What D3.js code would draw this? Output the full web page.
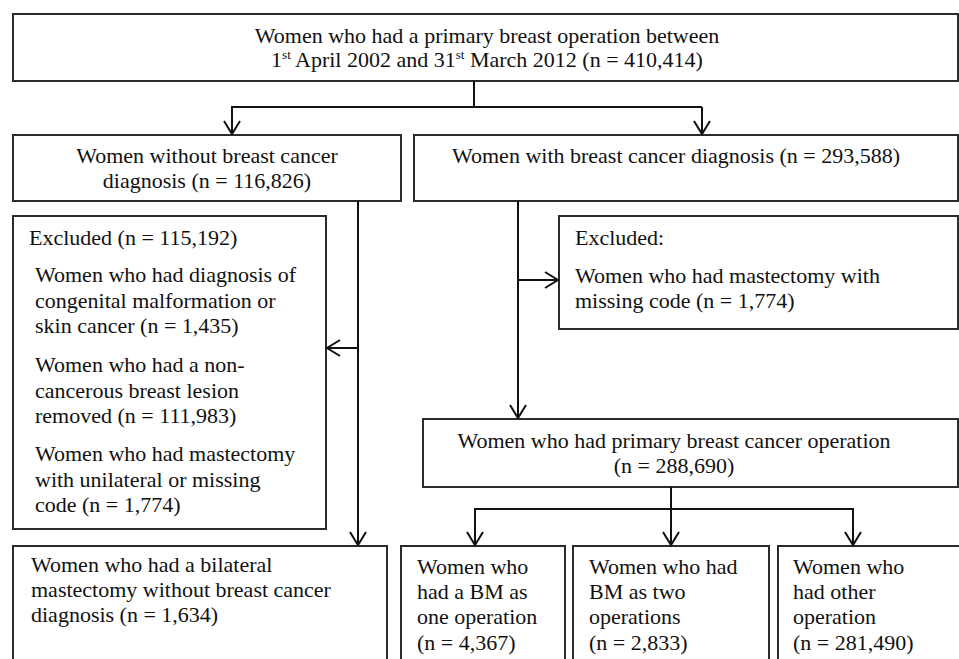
<!DOCTYPE html>
<html>
<head>
<meta charset="utf-8">
<script src="https://cdn.jsdelivr.net/npm/d3@7"></script>
<style>
  body { margin: 0; background: #fff; }
  text { font-family: "Liberation Serif", "Times New Roman", serif; font-size: 22px; fill: #111; }
</style>
</head>
<body>
<div class="flow-chart"></div>
<script>
// node texts ("^" marks a superscript)
var topLines = ["Women who had a primary breast operation between", "1^st April 2002 and 31^st March 2012 (n = 410,414)"];
var noCancerLines = ["Women without breast cancer", "diagnosis (n = 116,826)"];
var cancerLines = ["Women with breast cancer diagnosis (n = 293,588)"];
var excl1Header = ["Excluded (n = 115,192)"];
var excl1Items = [
  ["Women who had diagnosis of", "congenital malformation or", "skin cancer (n = 1,435)"],
  ["Women who had a non-", "cancerous breast lesion", "removed (n = 111,983)"],
  ["Women who had mastectomy", "with unilateral or missing", "code (n = 1,774)"]
];
var excl2Lines = ["Excluded:", "Women who had mastectomy with", "missing code (n = 1,774)"];
var primaryLines = ["Women who had primary breast cancer operation", "(n = 288,690)"];
var bilateralLines = ["Women who had a bilateral", "mastectomy without breast cancer", "diagnosis (n = 1,634)"];
var bm1Lines = ["Women who", "had a BM as", "one operation", "(n = 4,367)"];
var bm2Lines = ["Women who had", "BM as two", "operations", "(n = 2,833)"];
var otherLines = ["Women who", "had other", "operation", "(n = 281,490)"];

var width = 959, height = 659;

var svg = d3.select(".flow-chart").append("svg")
  .attr("width", width)
  .attr("height", height);

// boxes
var boxes = [
  {x0: 13, y0: 14, x1: 958, y1: 81},
  {x0: 13, y0: 135, x1: 401, y1: 201},
  {x0: 414, y0: 135, x1: 958, y1: 201},
  {x0: 13, y0: 216, x1: 326, y1: 529},
  {x0: 559, y0: 216, x1: 958, y1: 329},
  {x0: 423, y0: 419, x1: 958, y1: 487},
  {x0: 13, y0: 546, x1: 387, y1: 690},
  {x0: 401, y0: 546, x1: 565, y1: 690},
  {x0: 573, y0: 546, x1: 769, y1: 690},
  {x0: 778, y0: 546, x1: 966, y1: 690}
];

svg.selectAll("rect.box")
  .data(boxes)
  .enter().append("rect")
  .attr("class", "box")
  .attr("x", function(d) { return d.x0; })
  .attr("y", function(d) { return d.y0; })
  .attr("width", function(d) { return d.x1 - d.x0; })
  .attr("height", function(d) { return d.y1 - d.y0; })
  .style("fill", "none")
  .style("stroke", "#2b2b2b")
  .style("stroke-width", "2px");

// connectors, arrow = true puts an open head at the end
var links = [
  {p: [[474, 81], [474, 107]]},
  {p: [[231, 107], [702, 107]]},
  {p: [[232, 107], [232, 134]], arrow: true},
  {p: [[702, 107], [702, 134]], arrow: true},
  {p: [[358, 201], [358, 545]], arrow: true},
  {p: [[358, 348], [327, 348]], arrow: true},
  {p: [[518, 201], [518, 418]], arrow: true},
  {p: [[518, 280], [558, 280]], arrow: true},
  {p: [[671, 487], [671, 509]]},
  {p: [[474, 509], [854, 509]]},
  {p: [[475, 509], [475, 545]], arrow: true},
  {p: [[671, 509], [671, 545]], arrow: true},
  {p: [[853, 509], [853, 545]], arrow: true}
];

var line = d3.line();

links.forEach(function(l) {
  svg.append("path")
    .attr("d", line(l.p))
    .style("fill", "none")
    .style("stroke", "#111")
    .style("stroke-width", "2px");
  if (l.arrow) {
    var a = l.p[0], b = l.p[1];
    var ang = Math.atan2(b[1] - a[1], b[0] - a[0]);
    var len = 13, half = 8;
    var ux = Math.cos(ang), uy = Math.sin(ang);
    var head = [
      [b[0] - ux * len - uy * half, b[1] - uy * len + ux * half],
      [b[0], b[1]],
      [b[0] - ux * len + uy * half, b[1] - uy * len - ux * half]
    ];
    svg.append("path")
      .attr("d", line(head))
      .style("fill", "none")
      .style("stroke", "#111")
      .style("stroke-width", "2px");
  }
});

// write lines of text, handling "^sup" pieces
function addText(lines, x, baselines, anchor) {
  lines.forEach(function(s, i) {
    var t = svg.append("text")
      .attr("x", x)
      .attr("y", baselines[i])
      .style("text-anchor", anchor || "start");
    var parts = s.split(/(\^\w+)/);
    var pending = 0;
    parts.forEach(function(p) {
      if (!p) return;
      if (p[0] === "^") {
        t.append("tspan")
          .attr("dy", -8)
          .style("font-size", "13px")
          .text(p.slice(1));
        pending = 8;
      } else {
        t.append("tspan").attr("dy", pending).text(p);
        pending = 0;
      }
    });
  });
}

addText(topLines, 487, [43, 67], "middle");
addText(noCancerLines, 207, [163, 188], "middle");
addText(cancerLines, 452, [163]);
addText(excl1Header, 29, [245]);
addText(excl1Items[0], 35, [282, 308, 333]);
addText(excl1Items[1], 35, [372, 398, 423]);
addText(excl1Items[2], 35, [461, 487, 512]);
addText(excl2Lines, 575, [245, 283, 308]);
addText(primaryLines, 674, [448, 473], "middle");
addText(bilateralLines, 31, [572, 597, 622]);
addText(bm1Lines, 417, [574, 599, 624, 650]);
addText(bm2Lines, 589, [574, 599, 624, 650]);
addText(otherLines, 793, [574, 599, 624, 650]);
</script>
</body>
</html>
